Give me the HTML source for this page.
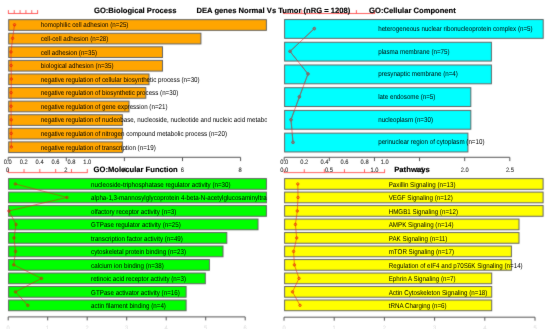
<!DOCTYPE html><html><head><meta charset="utf-8"><style>html,body{margin:0;padding:0;background:#fff;}svg{display:block;text-rendering:geometricPrecision;}</style></head><body>
<svg width="550" height="329" viewBox="0 0 550 329" font-family='"Liberation Sans", sans-serif'>
<defs>
<filter id="soft" x="0" y="0" width="100%" height="100%" filterUnits="userSpaceOnUse" color-interpolation-filters="sRGB"><feConvolveMatrix order="3" kernelMatrix="1 2 1 2 24 2 1 2 1" edgeMode="duplicate"/></filter>
<filter id="softt" x="0" y="0" width="100%" height="100%" filterUnits="userSpaceOnUse" color-interpolation-filters="sRGB"><feConvolveMatrix order="3" kernelMatrix="0 1 0 1 16 1 0 1 0" preserveAlpha="false"/></filter>
<clipPath id="c1"><rect x="0" y="0" width="267" height="165"/></clipPath>
<clipPath id="c2"><rect x="275" y="0" width="268.8" height="165"/></clipPath>
<clipPath id="c3"><rect x="0" y="165" width="267.0" height="164"/></clipPath>
<clipPath id="c4"><rect x="275" y="165" width="269" height="164"/></clipPath>
</defs>
<g filter="url(#soft)">
<rect width="550" height="329" fill="#fff"/>
<rect x="8.70" y="19.65" width="257.70" height="10.70" fill="#FFA500" stroke="#636363" stroke-width="1"/>
<rect x="8.70" y="33.23" width="192.20" height="10.70" fill="#FFA500" stroke="#636363" stroke-width="1"/>
<rect x="8.70" y="46.81" width="153.80" height="10.70" fill="#FFA500" stroke="#636363" stroke-width="1"/>
<rect x="8.70" y="60.39" width="153.80" height="10.70" fill="#FFA500" stroke="#636363" stroke-width="1"/>
<rect x="8.70" y="73.97" width="140.30" height="10.70" fill="#FFA500" stroke="#636363" stroke-width="1"/>
<rect x="8.70" y="87.55" width="137.10" height="10.70" fill="#FFA500" stroke="#636363" stroke-width="1"/>
<rect x="8.70" y="101.13" width="120.30" height="10.70" fill="#FFA500" stroke="#636363" stroke-width="1"/>
<rect x="8.70" y="114.71" width="113.70" height="10.70" fill="#FFA500" stroke="#636363" stroke-width="1"/>
<rect x="8.70" y="128.29" width="113.70" height="10.70" fill="#FFA500" stroke="#636363" stroke-width="1"/>
<rect x="8.70" y="141.87" width="113.70" height="10.70" fill="#FFA500" stroke="#636363" stroke-width="1"/>
<polyline points="14.50,24.75 12.60,38.33 11.00,51.91 11.10,65.49 11.30,79.07 11.10,92.65 11.00,106.23 11.20,119.81 11.20,133.39 11.30,146.97" fill="none" stroke="rgba(235,20,20,0.6)" stroke-width="0.9"/>
<circle cx="14.50" cy="24.75" r="1.25" fill="rgba(255,0,0,0.25)" stroke="rgba(220,20,20,0.75)" stroke-width="0.8"/>
<circle cx="12.60" cy="38.33" r="1.25" fill="rgba(255,0,0,0.25)" stroke="rgba(220,20,20,0.75)" stroke-width="0.8"/>
<circle cx="11.00" cy="51.91" r="1.25" fill="rgba(255,0,0,0.25)" stroke="rgba(220,20,20,0.75)" stroke-width="0.8"/>
<circle cx="11.10" cy="65.49" r="1.25" fill="rgba(255,0,0,0.25)" stroke="rgba(220,20,20,0.75)" stroke-width="0.8"/>
<circle cx="11.30" cy="79.07" r="1.25" fill="rgba(255,0,0,0.25)" stroke="rgba(220,20,20,0.75)" stroke-width="0.8"/>
<circle cx="11.10" cy="92.65" r="1.25" fill="rgba(255,0,0,0.25)" stroke="rgba(220,20,20,0.75)" stroke-width="0.8"/>
<circle cx="11.00" cy="106.23" r="1.25" fill="rgba(255,0,0,0.25)" stroke="rgba(220,20,20,0.75)" stroke-width="0.8"/>
<circle cx="11.20" cy="119.81" r="1.25" fill="rgba(255,0,0,0.25)" stroke="rgba(220,20,20,0.75)" stroke-width="0.8"/>
<circle cx="11.20" cy="133.39" r="1.25" fill="rgba(255,0,0,0.25)" stroke="rgba(220,20,20,0.75)" stroke-width="0.8"/>
<circle cx="11.30" cy="146.97" r="1.25" fill="rgba(255,0,0,0.25)" stroke="rgba(220,20,20,0.75)" stroke-width="0.8"/>
<line x1="8.00" y1="13.5" x2="38.00" y2="13.5" stroke="#ff4444" stroke-width="0.85"/>
<line x1="8.40" y1="13.5" x2="8.40" y2="10.1" stroke="#ff4444" stroke-width="0.85"/>
<line x1="14.24" y1="13.5" x2="14.24" y2="10.1" stroke="#ff4444" stroke-width="0.85"/>
<line x1="20.08" y1="13.5" x2="20.08" y2="10.1" stroke="#ff4444" stroke-width="0.85"/>
<line x1="25.92" y1="13.5" x2="25.92" y2="10.1" stroke="#ff4444" stroke-width="0.85"/>
<line x1="31.76" y1="13.5" x2="31.76" y2="10.1" stroke="#ff4444" stroke-width="0.85"/>
<line x1="37.60" y1="13.5" x2="37.60" y2="10.1" stroke="#ff4444" stroke-width="0.85"/>
<line x1="8.20" y1="157.3" x2="240.60" y2="157.3" stroke="#555" stroke-width="1"/>
<line x1="8.20" y1="157.3" x2="8.20" y2="161.10000000000002" stroke="#555" stroke-width="1"/>
<line x1="66.30" y1="157.3" x2="66.30" y2="161.10000000000002" stroke="#555" stroke-width="1"/>
<line x1="124.40" y1="157.3" x2="124.40" y2="161.10000000000002" stroke="#555" stroke-width="1"/>
<line x1="182.50" y1="157.3" x2="182.50" y2="161.10000000000002" stroke="#555" stroke-width="1"/>
<line x1="240.60" y1="157.3" x2="240.60" y2="161.10000000000002" stroke="#555" stroke-width="1"/>
<rect x="284.60" y="19.55" width="258.60" height="18.80" fill="#00FFFF" stroke="#636363" stroke-width="1"/>
<rect x="284.60" y="42.27" width="206.80" height="18.80" fill="#00FFFF" stroke="#636363" stroke-width="1"/>
<rect x="284.60" y="64.99" width="206.80" height="18.80" fill="#00FFFF" stroke="#636363" stroke-width="1"/>
<rect x="284.60" y="87.71" width="186.20" height="18.80" fill="#00FFFF" stroke="#636363" stroke-width="1"/>
<rect x="284.60" y="110.43" width="186.20" height="18.80" fill="#00FFFF" stroke="#636363" stroke-width="1"/>
<rect x="284.60" y="133.15" width="183.30" height="18.80" fill="#00FFFF" stroke="#636363" stroke-width="1"/>
<defs><clipPath id="cyanbars"><rect x="285" y="20.05" width="200" height="17.80"/><rect x="285" y="42.77" width="200" height="17.80"/><rect x="285" y="65.49" width="200" height="17.80"/><rect x="285" y="88.21" width="200" height="17.80"/><rect x="285" y="110.93" width="200" height="17.80"/><rect x="285" y="133.65" width="200" height="17.80"/></clipPath></defs>
<polyline points="314.30,28.60 290.00,51.40 308.00,73.90 299.40,96.80 291.00,119.70 293.00,142.40" fill="none" stroke="rgba(235,20,20,0.6)" stroke-width="0.9"/>
<circle cx="314.30" cy="28.60" r="1.25" fill="rgba(255,0,0,0.25)" stroke="rgba(220,20,20,0.75)" stroke-width="0.8"/>
<circle cx="290.00" cy="51.40" r="1.25" fill="rgba(255,0,0,0.25)" stroke="rgba(220,20,20,0.75)" stroke-width="0.8"/>
<circle cx="308.00" cy="73.90" r="1.25" fill="rgba(255,0,0,0.25)" stroke="rgba(220,20,20,0.75)" stroke-width="0.8"/>
<circle cx="299.40" cy="96.80" r="1.25" fill="rgba(255,0,0,0.25)" stroke="rgba(220,20,20,0.75)" stroke-width="0.8"/>
<circle cx="291.00" cy="119.70" r="1.25" fill="rgba(255,0,0,0.25)" stroke="rgba(220,20,20,0.75)" stroke-width="0.8"/>
<circle cx="293.00" cy="142.40" r="1.25" fill="rgba(255,0,0,0.25)" stroke="rgba(220,20,20,0.75)" stroke-width="0.8"/>
<g clip-path="url(#cyanbars)">
<polyline points="314.30,28.60 290.00,51.40 308.00,73.90 299.40,96.80 291.00,119.70 293.00,142.40" fill="none" stroke="rgb(120,110,110)" stroke-width="0.9"/>
<circle cx="314.30" cy="28.60" r="1.25" fill="none" stroke="rgb(120,110,110)" stroke-width="0.8"/>
<circle cx="290.00" cy="51.40" r="1.25" fill="none" stroke="rgb(120,110,110)" stroke-width="0.8"/>
<circle cx="308.00" cy="73.90" r="1.25" fill="none" stroke="rgb(120,110,110)" stroke-width="0.8"/>
<circle cx="299.40" cy="96.80" r="1.25" fill="none" stroke="rgb(120,110,110)" stroke-width="0.8"/>
<circle cx="291.00" cy="119.70" r="1.25" fill="none" stroke="rgb(120,110,110)" stroke-width="0.8"/>
<circle cx="293.00" cy="142.40" r="1.25" fill="none" stroke="rgb(120,110,110)" stroke-width="0.8"/>
</g>
<line x1="283.20" y1="13.5" x2="375.00" y2="13.5" stroke="#ff4444" stroke-width="0.85"/>
<line x1="283.60" y1="13.5" x2="283.60" y2="10.1" stroke="#ff4444" stroke-width="0.85"/>
<line x1="301.80" y1="13.5" x2="301.80" y2="10.1" stroke="#ff4444" stroke-width="0.85"/>
<line x1="320.00" y1="13.5" x2="320.00" y2="10.1" stroke="#ff4444" stroke-width="0.85"/>
<line x1="338.20" y1="13.5" x2="338.20" y2="10.1" stroke="#ff4444" stroke-width="0.85"/>
<line x1="356.40" y1="13.5" x2="356.40" y2="10.1" stroke="#ff4444" stroke-width="0.85"/>
<line x1="374.60" y1="13.5" x2="374.60" y2="10.1" stroke="#ff4444" stroke-width="0.85"/>
<line x1="284.20" y1="157.3" x2="509.80" y2="157.3" stroke="#555" stroke-width="1"/>
<line x1="284.20" y1="157.3" x2="284.20" y2="161.10000000000002" stroke="#555" stroke-width="1"/>
<line x1="329.32" y1="157.3" x2="329.32" y2="161.10000000000002" stroke="#555" stroke-width="1"/>
<line x1="374.44" y1="157.3" x2="374.44" y2="161.10000000000002" stroke="#555" stroke-width="1"/>
<line x1="419.56" y1="157.3" x2="419.56" y2="161.10000000000002" stroke="#555" stroke-width="1"/>
<line x1="464.68" y1="157.3" x2="464.68" y2="161.10000000000002" stroke="#555" stroke-width="1"/>
<line x1="509.80" y1="157.3" x2="509.80" y2="161.10000000000002" stroke="#555" stroke-width="1"/>
<rect x="8.60" y="178.60" width="257.80" height="10.70" fill="#00FF00" stroke="#636363" stroke-width="1"/>
<rect x="8.60" y="192.09" width="257.80" height="10.70" fill="#00FF00" stroke="#636363" stroke-width="1"/>
<rect x="8.60" y="205.58" width="257.80" height="10.70" fill="#00FF00" stroke="#636363" stroke-width="1"/>
<rect x="8.60" y="219.07" width="249.40" height="10.70" fill="#00FF00" stroke="#636363" stroke-width="1"/>
<rect x="8.60" y="232.56" width="218.20" height="10.70" fill="#00FF00" stroke="#636363" stroke-width="1"/>
<rect x="8.60" y="246.05" width="214.40" height="10.70" fill="#00FF00" stroke="#636363" stroke-width="1"/>
<rect x="8.60" y="259.54" width="200.80" height="10.70" fill="#00FF00" stroke="#636363" stroke-width="1"/>
<rect x="8.60" y="273.03" width="196.70" height="10.70" fill="#00FF00" stroke="#636363" stroke-width="1"/>
<rect x="8.60" y="286.52" width="177.50" height="10.70" fill="#00FF00" stroke="#636363" stroke-width="1"/>
<rect x="8.60" y="300.01" width="177.50" height="10.70" fill="#00FF00" stroke="#636363" stroke-width="1"/>
<polyline points="15.30,183.95 67.00,197.44 8.90,210.93 16.00,224.42 14.00,237.91 15.50,251.40 13.70,264.89 41.50,278.38 15.50,291.87 27.80,305.36" fill="none" stroke="rgba(235,20,20,0.6)" stroke-width="0.9"/>
<circle cx="15.30" cy="183.95" r="1.25" fill="rgba(255,0,0,0.25)" stroke="rgba(220,20,20,0.75)" stroke-width="0.8"/>
<circle cx="67.00" cy="197.44" r="1.25" fill="rgba(255,0,0,0.25)" stroke="rgba(220,20,20,0.75)" stroke-width="0.8"/>
<circle cx="8.90" cy="210.93" r="1.25" fill="rgba(255,0,0,0.25)" stroke="rgba(220,20,20,0.75)" stroke-width="0.8"/>
<circle cx="16.00" cy="224.42" r="1.25" fill="rgba(255,0,0,0.25)" stroke="rgba(220,20,20,0.75)" stroke-width="0.8"/>
<circle cx="14.00" cy="237.91" r="1.25" fill="rgba(255,0,0,0.25)" stroke="rgba(220,20,20,0.75)" stroke-width="0.8"/>
<circle cx="15.50" cy="251.40" r="1.25" fill="rgba(255,0,0,0.25)" stroke="rgba(220,20,20,0.75)" stroke-width="0.8"/>
<circle cx="13.70" cy="264.89" r="1.25" fill="rgba(255,0,0,0.25)" stroke="rgba(220,20,20,0.75)" stroke-width="0.8"/>
<circle cx="41.50" cy="278.38" r="1.25" fill="rgba(255,0,0,0.25)" stroke="rgba(220,20,20,0.75)" stroke-width="0.8"/>
<circle cx="15.50" cy="291.87" r="1.25" fill="rgba(255,0,0,0.25)" stroke="rgba(220,20,20,0.75)" stroke-width="0.8"/>
<circle cx="27.80" cy="305.36" r="1.25" fill="rgba(255,0,0,0.25)" stroke="rgba(220,20,20,0.75)" stroke-width="0.8"/>
<line x1="7.80" y1="172.6" x2="87.70" y2="172.6" stroke="#ff4444" stroke-width="0.85"/>
<line x1="8.20" y1="172.6" x2="8.20" y2="169.0" stroke="#ff4444" stroke-width="0.85"/>
<line x1="24.02" y1="172.6" x2="24.02" y2="169.0" stroke="#ff4444" stroke-width="0.85"/>
<line x1="39.84" y1="172.6" x2="39.84" y2="169.0" stroke="#ff4444" stroke-width="0.85"/>
<line x1="55.66" y1="172.6" x2="55.66" y2="169.0" stroke="#ff4444" stroke-width="0.85"/>
<line x1="71.48" y1="172.6" x2="71.48" y2="169.0" stroke="#ff4444" stroke-width="0.85"/>
<line x1="87.30" y1="172.6" x2="87.30" y2="169.0" stroke="#ff4444" stroke-width="0.85"/>
<line x1="8.20" y1="316.9" x2="245.20" y2="316.9" stroke="#555" stroke-width="1"/>
<line x1="8.20" y1="316.9" x2="8.20" y2="320.4" stroke="#555" stroke-width="1"/>
<line x1="47.70" y1="316.9" x2="47.70" y2="320.4" stroke="#555" stroke-width="1"/>
<line x1="87.20" y1="316.9" x2="87.20" y2="320.4" stroke="#555" stroke-width="1"/>
<line x1="126.70" y1="316.9" x2="126.70" y2="320.4" stroke="#555" stroke-width="1"/>
<line x1="166.20" y1="316.9" x2="166.20" y2="320.4" stroke="#555" stroke-width="1"/>
<line x1="205.70" y1="316.9" x2="205.70" y2="320.4" stroke="#555" stroke-width="1"/>
<line x1="245.20" y1="316.9" x2="245.20" y2="320.4" stroke="#555" stroke-width="1"/>
<rect x="284.60" y="178.60" width="258.50" height="10.70" fill="#FFFF00" stroke="#636363" stroke-width="1"/>
<rect x="284.60" y="192.09" width="258.50" height="10.70" fill="#FFFF00" stroke="#636363" stroke-width="1"/>
<rect x="284.60" y="205.58" width="258.50" height="10.70" fill="#FFFF00" stroke="#636363" stroke-width="1"/>
<rect x="284.60" y="219.07" width="234.40" height="10.70" fill="#FFFF00" stroke="#636363" stroke-width="1"/>
<rect x="284.60" y="232.56" width="234.40" height="10.70" fill="#FFFF00" stroke="#636363" stroke-width="1"/>
<rect x="284.60" y="246.05" width="226.80" height="10.70" fill="#FFFF00" stroke="#636363" stroke-width="1"/>
<rect x="284.60" y="259.54" width="226.80" height="10.70" fill="#FFFF00" stroke="#636363" stroke-width="1"/>
<rect x="284.60" y="273.03" width="207.10" height="10.70" fill="#FFFF00" stroke="#636363" stroke-width="1"/>
<rect x="284.60" y="286.52" width="207.10" height="10.70" fill="#FFFF00" stroke="#636363" stroke-width="1"/>
<rect x="284.60" y="300.01" width="207.10" height="10.70" fill="#FFFF00" stroke="#636363" stroke-width="1"/>
<polyline points="297.80,183.95 298.00,197.44 297.30,210.93 295.40,224.42 296.70,237.91 293.60,251.40 294.40,264.89 299.00,278.38 292.50,291.87 300.00,305.36" fill="none" stroke="rgba(235,20,20,0.6)" stroke-width="0.9"/>
<circle cx="297.80" cy="183.95" r="1.25" fill="rgba(255,0,0,0.25)" stroke="rgba(220,20,20,0.75)" stroke-width="0.8"/>
<circle cx="298.00" cy="197.44" r="1.25" fill="rgba(255,0,0,0.25)" stroke="rgba(220,20,20,0.75)" stroke-width="0.8"/>
<circle cx="297.30" cy="210.93" r="1.25" fill="rgba(255,0,0,0.25)" stroke="rgba(220,20,20,0.75)" stroke-width="0.8"/>
<circle cx="295.40" cy="224.42" r="1.25" fill="rgba(255,0,0,0.25)" stroke="rgba(220,20,20,0.75)" stroke-width="0.8"/>
<circle cx="296.70" cy="237.91" r="1.25" fill="rgba(255,0,0,0.25)" stroke="rgba(220,20,20,0.75)" stroke-width="0.8"/>
<circle cx="293.60" cy="251.40" r="1.25" fill="rgba(255,0,0,0.25)" stroke="rgba(220,20,20,0.75)" stroke-width="0.8"/>
<circle cx="294.40" cy="264.89" r="1.25" fill="rgba(255,0,0,0.25)" stroke="rgba(220,20,20,0.75)" stroke-width="0.8"/>
<circle cx="299.00" cy="278.38" r="1.25" fill="rgba(255,0,0,0.25)" stroke="rgba(220,20,20,0.75)" stroke-width="0.8"/>
<circle cx="292.50" cy="291.87" r="1.25" fill="rgba(255,0,0,0.25)" stroke="rgba(220,20,20,0.75)" stroke-width="0.8"/>
<circle cx="300.00" cy="305.36" r="1.25" fill="rgba(255,0,0,0.25)" stroke="rgba(220,20,20,0.75)" stroke-width="0.8"/>
<line x1="283.80" y1="172.6" x2="385.00" y2="172.6" stroke="#ff4444" stroke-width="0.85"/>
<line x1="284.20" y1="172.6" x2="284.20" y2="169.2" stroke="#ff4444" stroke-width="0.85"/>
<line x1="304.28" y1="172.6" x2="304.28" y2="169.2" stroke="#ff4444" stroke-width="0.85"/>
<line x1="324.36" y1="172.6" x2="324.36" y2="169.2" stroke="#ff4444" stroke-width="0.85"/>
<line x1="344.44" y1="172.6" x2="344.44" y2="169.2" stroke="#ff4444" stroke-width="0.85"/>
<line x1="364.52" y1="172.6" x2="364.52" y2="169.2" stroke="#ff4444" stroke-width="0.85"/>
<line x1="384.60" y1="172.6" x2="384.60" y2="169.2" stroke="#ff4444" stroke-width="0.85"/>
<line x1="284.00" y1="317.2" x2="535.00" y2="317.2" stroke="#555" stroke-width="1"/>
<line x1="284.00" y1="317.2" x2="284.00" y2="320.7" stroke="#555" stroke-width="1"/>
<line x1="334.20" y1="317.2" x2="334.20" y2="320.7" stroke="#555" stroke-width="1"/>
<line x1="384.40" y1="317.2" x2="384.40" y2="320.7" stroke="#555" stroke-width="1"/>
<line x1="434.60" y1="317.2" x2="434.60" y2="320.7" stroke="#555" stroke-width="1"/>
<line x1="484.80" y1="317.2" x2="484.80" y2="320.7" stroke="#555" stroke-width="1"/>
<line x1="535.00" y1="317.2" x2="535.00" y2="320.7" stroke="#555" stroke-width="1"/>
</g>
<g filter="url(#softt)">
<g fill="#000" stroke="#000" stroke-width="0.0" clip-path="url(#c1)">
<text x="40.8" y="27.35" font-size="7.0" textLength="87.65" lengthAdjust="spacingAndGlyphs">homophilic cell adhesion (n=25)</text>
<text x="40.8" y="40.93" font-size="7.0" textLength="67.59" lengthAdjust="spacingAndGlyphs">cell-cell adhesion (n=28)</text>
<text x="40.8" y="54.51" font-size="7.0" textLength="56.19" lengthAdjust="spacingAndGlyphs">cell adhesion (n=35)</text>
<text x="40.8" y="68.09" font-size="7.0" textLength="72.79" lengthAdjust="spacingAndGlyphs">biological adhesion (n=35)</text>
<text x="40.8" y="81.67" font-size="7.0" textLength="158.86" lengthAdjust="spacingAndGlyphs">negative regulation of cellular biosynthetic process (n=30)</text>
<text x="40.8" y="95.25" font-size="7.0" textLength="137.43" lengthAdjust="spacingAndGlyphs">negative regulation of biosynthetic process (n=30)</text>
<text x="40.8" y="108.83" font-size="7.0" textLength="126.72" lengthAdjust="spacingAndGlyphs">negative regulation of gene expression (n=21)</text>
<text x="40.8" y="122.41" font-size="7.0" textLength="256.20" lengthAdjust="spacingAndGlyphs">negative regulation of nucleobase, nucleoside, nucleotide and nucleic acid metabolic process</text>
<text x="40.8" y="135.99" font-size="7.0" textLength="186.18" lengthAdjust="spacingAndGlyphs">negative regulation of nitrogen compound metabolic process (n=20)</text>
<text x="40.8" y="149.57" font-size="7.0" textLength="114.96" lengthAdjust="spacingAndGlyphs">negative regulation of transcription (n=19)</text>
</g>
<g fill="#000" stroke="#000" stroke-width="0.0" clip-path="url(#c2)">
<text x="378.2" y="30.85" font-size="7.0" textLength="154.38" lengthAdjust="spacingAndGlyphs">heterogeneous nuclear ribonucleoprotein complex (n=5)</text>
<text x="378.2" y="53.57" font-size="7.0" textLength="71.39" lengthAdjust="spacingAndGlyphs">plasma membrane (n=75)</text>
<text x="378.2" y="76.29" font-size="7.0" textLength="79.68" lengthAdjust="spacingAndGlyphs">presynaptic membrane (n=4)</text>
<text x="378.2" y="99.01" font-size="7.0" textLength="57.22" lengthAdjust="spacingAndGlyphs">late endosome (n=5)</text>
<text x="378.2" y="121.73" font-size="7.0" textLength="54.80" lengthAdjust="spacingAndGlyphs">nucleoplasm (n=30)</text>
<text x="378.2" y="144.45" font-size="7.0" textLength="106.31" lengthAdjust="spacingAndGlyphs">perinuclear region of cytoplasm (n=10)</text>
</g>
<g fill="#000" stroke="#000" stroke-width="0.0" clip-path="url(#c3)">
<text x="91.1" y="186.60" font-size="7.0" textLength="139.50" lengthAdjust="spacingAndGlyphs">nucleoside-triphosphatase regulator activity (n=30)</text>
<text x="91.1" y="200.09" font-size="7.0" textLength="236.63" lengthAdjust="spacingAndGlyphs">alpha-1,3-mannosylglycoprotein 4-beta-N-acetylglucosaminyltransferase activity (n=3)</text>
<text x="91.1" y="213.58" font-size="7.0" textLength="85.21" lengthAdjust="spacingAndGlyphs">olfactory receptor activity (n=3)</text>
<text x="91.1" y="227.07" font-size="7.0" textLength="89.71" lengthAdjust="spacingAndGlyphs">GTPase regulator activity (n=25)</text>
<text x="91.1" y="240.56" font-size="7.0" textLength="91.78" lengthAdjust="spacingAndGlyphs">transcription factor activity (n=49)</text>
<text x="91.1" y="254.05" font-size="7.0" textLength="94.91" lengthAdjust="spacingAndGlyphs">cytoskeletal protein binding (n=23)</text>
<text x="91.1" y="267.54" font-size="7.0" textLength="72.78" lengthAdjust="spacingAndGlyphs">calcium ion binding (n=38)</text>
<text x="91.1" y="281.03" font-size="7.0" textLength="94.89" lengthAdjust="spacingAndGlyphs">retinoic acid receptor activity (n=3)</text>
<text x="91.1" y="294.52" font-size="7.0" textLength="88.66" lengthAdjust="spacingAndGlyphs">GTPase activator activity (n=16)</text>
<text x="91.1" y="308.01" font-size="7.0" textLength="74.85" lengthAdjust="spacingAndGlyphs">actin filament binding (n=4)</text>
</g>
<g fill="#000" stroke="#000" stroke-width="0.0" clip-path="url(#c4)">
<text x="388.7" y="186.60" font-size="7.0" textLength="66.90" lengthAdjust="spacingAndGlyphs">Paxillin Signaling (n=13)</text>
<text x="388.7" y="200.09" font-size="7.0" textLength="64.13" lengthAdjust="spacingAndGlyphs">VEGF Signaling (n=12)</text>
<text x="388.7" y="213.58" font-size="7.0" textLength="69.32" lengthAdjust="spacingAndGlyphs">HMGB1 Signaling (n=12)</text>
<text x="388.7" y="227.07" font-size="7.0" textLength="64.83" lengthAdjust="spacingAndGlyphs">AMPK Signaling (n=14)</text>
<text x="388.7" y="240.56" font-size="7.0" textLength="58.72" lengthAdjust="spacingAndGlyphs">PAK Signaling (n=11)</text>
<text x="388.7" y="254.05" font-size="7.0" textLength="65.39" lengthAdjust="spacingAndGlyphs">mTOR Signaling (n=17)</text>
<text x="388.7" y="267.54" font-size="7.0" textLength="133.99" lengthAdjust="spacingAndGlyphs">Regulation of eIF4 and p70S6K Signaling (n=14)</text>
<text x="388.7" y="281.03" font-size="7.0" textLength="66.91" lengthAdjust="spacingAndGlyphs">Ephrin A Signaling (n=7)</text>
<text x="388.7" y="294.52" font-size="7.0" textLength="98.71" lengthAdjust="spacingAndGlyphs">Actin Cytoskeleton Signaling (n=18)</text>
<text x="388.7" y="308.01" font-size="7.0" textLength="57.91" lengthAdjust="spacingAndGlyphs">tRNA Charging (n=6)</text>
</g>
<g font-size="6.3" fill="#333" stroke="#333" stroke-width="0.1">
<text x="3.80" y="163.8" textLength="7.99" lengthAdjust="spacingAndGlyphs">0.0</text>
<text x="19.70" y="163.8" textLength="7.99" lengthAdjust="spacingAndGlyphs">0.2</text>
<text x="35.60" y="163.8" textLength="7.99" lengthAdjust="spacingAndGlyphs">0.4</text>
<text x="51.50" y="163.8" textLength="7.99" lengthAdjust="spacingAndGlyphs">0.6</text>
<text x="67.40" y="163.8" textLength="7.99" lengthAdjust="spacingAndGlyphs">0.8</text>
<text x="83.30" y="163.8" textLength="7.99" lengthAdjust="spacingAndGlyphs">1.0</text>
</g>
<g font-size="6.3" fill="#333" stroke="#333" stroke-width="0.1">
<text x="280.20" y="163.8" textLength="7.99" lengthAdjust="spacingAndGlyphs">0.0</text>
<text x="300.30" y="163.8" textLength="7.99" lengthAdjust="spacingAndGlyphs">0.2</text>
<text x="320.40" y="163.8" textLength="7.99" lengthAdjust="spacingAndGlyphs">0.4</text>
<text x="340.50" y="163.8" textLength="7.99" lengthAdjust="spacingAndGlyphs">0.6</text>
<text x="360.60" y="163.8" textLength="7.99" lengthAdjust="spacingAndGlyphs">0.8</text>
<text x="380.70" y="163.8" textLength="7.99" lengthAdjust="spacingAndGlyphs">1.0</text>
</g>
<g font-size="6.3" fill="#333" stroke="#333" stroke-width="0.1">
<text x="6.00" y="171.6" textLength="3.20" lengthAdjust="spacingAndGlyphs">0</text>
<text x="64.30" y="171.6" textLength="3.20" lengthAdjust="spacingAndGlyphs">2</text>
<text x="122.90" y="171.6" textLength="3.20" lengthAdjust="spacingAndGlyphs">4</text>
<text x="180.70" y="171.6" textLength="3.20" lengthAdjust="spacingAndGlyphs">6</text>
<text x="238.60" y="171.6" textLength="3.20" lengthAdjust="spacingAndGlyphs">8</text>
</g>
<g font-size="6.3" fill="#333" stroke="#333" stroke-width="0.1">
<text x="280.20" y="171.7" textLength="7.99" lengthAdjust="spacingAndGlyphs">0.0</text>
<text x="324.90" y="171.7" textLength="7.99" lengthAdjust="spacingAndGlyphs">0.5</text>
<text x="370.40" y="171.7" textLength="7.99" lengthAdjust="spacingAndGlyphs">1.0</text>
<text x="415.60" y="171.7" textLength="7.99" lengthAdjust="spacingAndGlyphs">1.5</text>
<text x="460.70" y="171.7" textLength="7.99" lengthAdjust="spacingAndGlyphs">2.0</text>
<text x="505.90" y="171.7" textLength="7.99" lengthAdjust="spacingAndGlyphs">2.5</text>
</g>
<g font-size="6.3" fill="#e4e4e4" stroke="#e4e4e4" stroke-width="0.1">
<text x="6.60" y="329.5" textLength="3.20" lengthAdjust="spacingAndGlyphs">0</text>
<text x="46.10" y="329.5" textLength="3.20" lengthAdjust="spacingAndGlyphs">1</text>
<text x="85.60" y="329.5" textLength="3.20" lengthAdjust="spacingAndGlyphs">2</text>
<text x="125.10" y="329.5" textLength="3.20" lengthAdjust="spacingAndGlyphs">3</text>
<text x="164.60" y="329.5" textLength="3.20" lengthAdjust="spacingAndGlyphs">4</text>
<text x="204.10" y="329.5" textLength="3.20" lengthAdjust="spacingAndGlyphs">5</text>
<text x="243.60" y="329.5" textLength="3.20" lengthAdjust="spacingAndGlyphs">6</text>
</g>
<g font-size="6.3" fill="#e4e4e4" stroke="#e4e4e4" stroke-width="0.1">
<text x="282.40" y="329.5" textLength="3.20" lengthAdjust="spacingAndGlyphs">0</text>
<text x="332.60" y="329.5" textLength="3.20" lengthAdjust="spacingAndGlyphs">1</text>
<text x="382.80" y="329.5" textLength="3.20" lengthAdjust="spacingAndGlyphs">2</text>
<text x="433.00" y="329.5" textLength="3.20" lengthAdjust="spacingAndGlyphs">3</text>
<text x="483.20" y="329.5" textLength="3.20" lengthAdjust="spacingAndGlyphs">4</text>
<text x="533.40" y="329.5" textLength="3.20" lengthAdjust="spacingAndGlyphs">5</text>
</g>
<g font-size="7.62" font-weight="bold" fill="#000" stroke="#000" stroke-width="0.15">
<text x="94" y="13.2">GO:Biological Process</text>
<text x="196.5" y="12.8">DEA genes Normal Vs Tumor (nRG = 1208)</text>
<text x="369.1" y="13.2">GO:Cellular Component</text>
<text x="93.6" y="172.0">GO:Molecular Function</text>
<text x="394.2" y="172.2" textLength="35.6" lengthAdjust="spacingAndGlyphs">Pathways</text>
</g>
</g>
</svg></body></html>
